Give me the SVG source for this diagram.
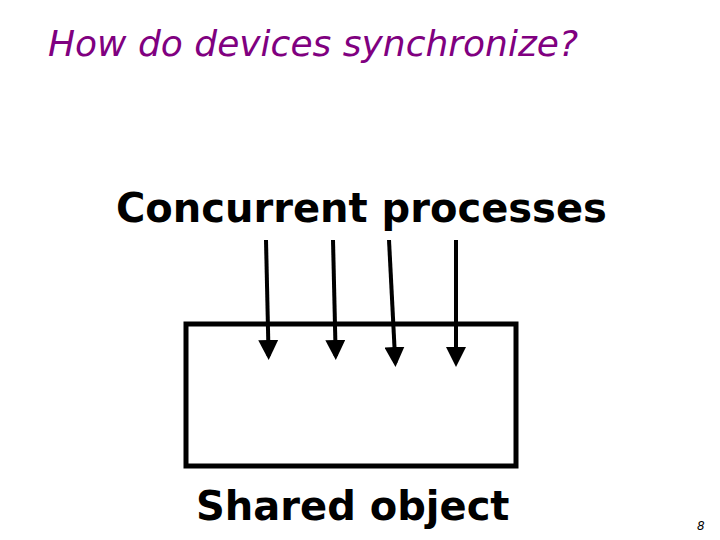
<svg xmlns="http://www.w3.org/2000/svg" width="720" height="540" viewBox="0 0 720 540">
<style>
.t{font-family:"DejaVu Sans",sans-serif}
.b{font-weight:bold;font-size:40px;fill:#000}
.a{stroke:#000;stroke-width:4;fill:none}
</style>
<defs><marker id="h" markerWidth="5" markerHeight="5" refX="4" refY="2.5" orient="auto" markerUnits="strokeWidth"><path d="M0,0L5,2.5L0,5z" fill="#000"/></marker></defs>
<rect width="720" height="540" fill="#fff"/>
<text class="t" x="48" y="56" font-size="36" font-style="italic" fill="#800080">How do devices synchronize?</text>
<g id="processes"><text class="t b" x="116" y="222">Concurrent processes</text></g>
<g id="object"><rect x="186" y="324" width="330" height="142" fill="none" stroke="#000" stroke-width="5"/>
<text class="t b" x="196" y="520">Shared object</text></g>
<g id="connectors">
<line class="a" x1="266" y1="240" x2="268.6" y2="356" marker-end="url(#h)"/>
<line class="a" x1="333" y1="240" x2="335.7" y2="356" marker-end="url(#h)"/>
<line class="a" x1="389" y1="240" x2="395.3" y2="363" marker-end="url(#h)"/>
<line class="a" x1="456" y1="240" x2="456" y2="363" marker-end="url(#h)"/>
</g>
<text class="t" x="697" y="530" font-size="12" font-style="italic">8</text>
</svg>
